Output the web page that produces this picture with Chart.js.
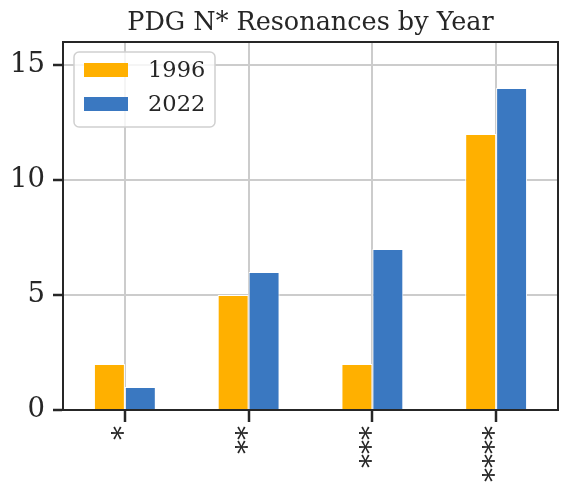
<!DOCTYPE html>
<html>
<head>
<meta charset="utf-8">
<script src="https://cdn.jsdelivr.net/npm/chart.js@4.4.0/dist/chart.umd.min.js"></script>
<style>
  html, body { margin: 0; padding: 0; background: #ffffff; }
  #wrap { width: 568px; height: 493px; }
</style>
</head>
<body>
<div id="wrap"><canvas id="c" width="568" height="493"></canvas></div>
<script>
const categories = ['*', '**', '***', '****'];
const seriesLabels = ['1996', '2022'];
const values1996 = [2, 5, 2, 12];
const values2022 = [1, 6, 7, 14];
const yTicks = [0, 5, 10, 15];
const yMax = 16;

const FONT = "'DejaVu Serif', serif";
const INK = '#262626';

const framePlugin = {
  id: 'frame',
  afterDatasetsDraw(chart) {
    const ctx = chart.ctx;
    const a = chart.chartArea;
    // legend box (inside axes, upper left)
    const lx = a.left + 11, ly = a.top + 10, lw = 141, lh = 75;
    ctx.save();
    ctx.beginPath();
    if (ctx.roundRect) ctx.roundRect(lx, ly, lw, lh, 5); else ctx.rect(lx, ly, lw, lh);
    ctx.fillStyle = 'rgba(255,255,255,0.8)';
    ctx.fill();
    ctx.lineWidth = 1.5;
    ctx.strokeStyle = '#d0d0d0';
    ctx.stroke();
    ctx.font = "22.5px " + FONT;
    ctx.textBaseline = 'middle';
    ctx.textAlign = 'left';
    chart.data.datasets.forEach((ds, i) => {
      const cy = ly + 18 + i * 34;
      ctx.fillStyle = ds.backgroundColor;
      ctx.fillRect(lx + 10, cy - 7, 44, 14);
      ctx.fillStyle = INK;
      ctx.fillText(ds.label, lx + 74, cy + 1);
    });
    ctx.restore();
  },
  afterDraw(chart) {
    const ctx = chart.ctx;
    const a = chart.chartArea;
    ctx.save();
    ctx.strokeStyle = INK;
    ctx.lineWidth = 2;
    ctx.beginPath();
    ctx.moveTo(a.left - 1, a.top);
    ctx.lineTo(a.right, a.top);
    ctx.lineTo(a.right, a.bottom + 1);
    ctx.stroke();
    ctx.restore();
  }
};

new Chart(document.getElementById('c'), {
  type: 'bar',
  data: {
    labels: categories,
    datasets: [
      { label: seriesLabels[0], data: values1996, backgroundColor: '#FFB000', borderColor: '#ffffff', borderWidth: 1, borderSkipped: 'start' },
      { label: seriesLabels[1], data: values2022, backgroundColor: '#3A78C1', borderColor: '#ffffff', borderWidth: 1, borderSkipped: 'start' }
    ]
  },
  options: {
    responsive: false,
    animation: false,
    devicePixelRatio: 1,
    layout: { padding: { right: 10, left: 0, top: 0, bottom: 0 } },
    datasets: { bar: { categoryPercentage: 0.5, barPercentage: 1.0 } },
    plugins: {
      legend: { display: false },
      tooltip: { enabled: false },
      title: {
        display: true,
        text: 'PDG N* Resonances by Year',
        fullSize: false,
        color: INK,
        font: { family: FONT, size: 25.5, weight: 'normal', lineHeight: 1.2 },
        padding: { top: 8, bottom: 3.4 }
      }
    },
    scales: {
      x: {
        type: 'category',
        offset: true,
        grid: { offset: false, color: '#cccccc', lineWidth: 2, tickColor: INK, tickWidth: 2.5, tickLength: 12 },
        border: { color: INK, width: 2 },
        ticks: { color: INK, font: { family: FONT, size: 28 }, minRotation: 90, maxRotation: 90, padding: 4, autoSkip: false },
        afterFit(scale) { scale.height = 83; }
      },
      y: {
        min: 0,
        max: yMax,
        grid: { color: '#cccccc', lineWidth: 2, tickColor: INK, tickWidth: 2.5, tickLength: 10 },
        border: { color: INK, width: 2 },
        ticks: { color: INK, font: { family: FONT, size: 27.5 }, padding: 8 },
        afterBuildTicks(scale) { scale.ticks = yTicks.map(v => ({ value: v })); },
        afterFit(scale) { scale.width = 63; }
      }
    }
  },
  plugins: [framePlugin]
});
</script>
</body>
</html>
